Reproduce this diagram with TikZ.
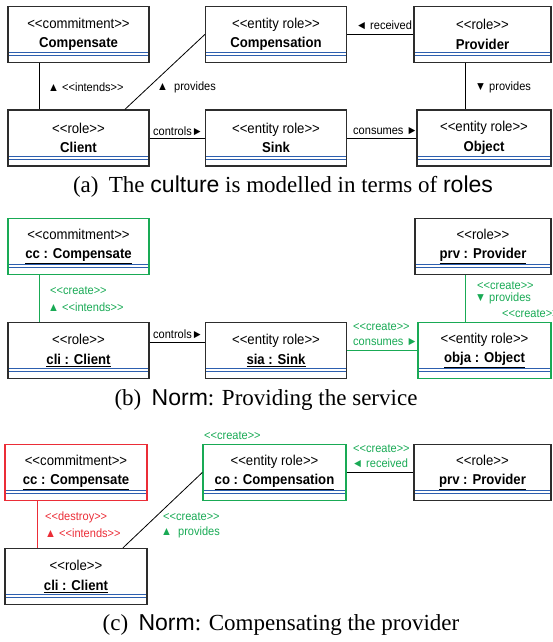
\documentclass[tikz,border=0pt]{standalone}
\usepackage{fontspec}
\setmainfont{Liberation Serif}
\setsansfont{Liberation Sans}[Ligatures=TeXOff]
\usetikzlibrary{positioning}
\definecolor{UMLGreen}{RGB}{25,170,85}
\definecolor{UMLRed}{RGB}{235,45,55}
\definecolor{UMLBlue}{RGB}{45,95,175}
\definecolor{UMLGray}{RGB}{45,45,45}

\begin{document}
\begin{tikzpicture}[x=1pt, y=-1pt,
          cls/.style={rectangle, draw=UMLGray, line width=1.4pt, minimum width=141pt,
                      minimum height=56pt, inner sep=0pt, align=center, fill=white,
                      font=\sffamily\fontsize{14.3}{19.5}\selectfont\addfontfeature{FakeStretch=0.92},
                      path picture={\draw[UMLBlue, line width=1pt]
                        ([yshift=10pt]path picture bounding box.south west) -- ([yshift=10pt]path picture bounding box.south east)
                        ([yshift=7pt]path picture bounding box.south west) -- ([yshift=7pt]path picture bounding box.south east);}},
          lbl/.style={font=\sffamily\fontsize{12}{13}\selectfont\addfontfeature{FakeStretch=0.92},
                      inner sep=0pt, anchor=west},
          lnk/.style={draw=black, line width=0.8pt},
          capt/.style={font=\fontsize{23}{26}\selectfont, inner sep=0pt}
        ]
        \useasboundingbox (0,0) rectangle (552,642);

        % (a) roles
        \node[cls] (compA)  at (78.5, 34.5) {<<commitment>>\\\textbf{Compensate}};
        \node[cls] (compnA) at (276, 34.5)  {<<entity role>>\\\textbf{Compensation}};
        \node[cls, minimum width=137pt] (provA) at (482.5, 34.5) {<<role>>\\\textbf{Provider}};
        \node[cls] (clientA) at (78.5, 138) {<<role>>\\\textbf{Client}};
        \node[cls] (sinkA)   at (276, 138)  {<<entity role>>\\\textbf{Sink}};
        \node[cls, minimum width=134pt] (objA) at (484, 138) {<<entity role>>\\\textbf{Object}};

        \draw[lnk] ([xshift=-39.5pt]compA.south) -- ([xshift=-39.5pt]clientA.north);
        \draw[lnk] ([xshift=46.5pt]clientA.north) -- (compnA.west);
        \draw[lnk] (compnA.east) -- (provA.west);
        \draw[lnk] ([xshift=-17.5pt]provA.south) -- ([xshift=-19pt]objA.north);
        \draw[lnk] (clientA.east) -- (sinkA.west);
        \draw[lnk] (sinkA.east) -- (objA.west);

        \node[lbl] (intA)  at (48, 87)   {▲ <<intends>>};
        \node[lbl] (provdA) at (157, 87) {▲\hspace{0.5em}provides};
        \node[lbl] (recA)  at (356, 25)  {◄ received};
        \node[lbl] (provdA2) at (475, 87) {▼ provides};
        \node[lbl] (ctrlA) at (153, 131) {controls►};
        \node[lbl] (consA) at (353, 131) {consumes ►};

        \node[capt] (captA) at (283, 187)
              {(a)\hspace{0.45em}The \textsf{culture} is modelled in terms of \textsf{roles}};

        % (b) providing the service
        \node[cls, draw=UMLGreen] (ccB) at (78.5, 246.5)
              {<<commitment>>\\\underline{\textbf{cc : Compensate}}};
        \node[cls, minimum width=136pt] (prvB) at (483, 246.5)
              {<<role>>\\\underline{\textbf{prv : Provider}}};
        \node[cls] (cliB) at (78.5, 350.5) {<<role>>\\\underline{\textbf{cli : Client}}};
        \node[cls] (siaB) at (276, 350.5)  {<<entity role>>\\\underline{\textbf{sia : Sink}}};
        \node[cls, draw=UMLGreen, minimum width=133pt] (objaB) at (484.5, 350.5)
              {<<entity role>>\\\underline{\textbf{obja : Object}}};

        \draw[lnk, draw=UMLGreen] ([xshift=-39.5pt]ccB.south) -- ([xshift=-39.5pt]cliB.north);
        \draw[lnk, draw=UMLGreen] ([xshift=-18pt]prvB.south) -- ([xshift=-19.5pt]objaB.north);
        \draw[lnk] ([yshift=8.5pt]cliB.east) -- ([yshift=8.5pt]siaB.west);
        \draw[lnk, draw=UMLGreen] (siaB.east) -- (objaB.west);

        \node[lbl, text=UMLGreen] (crB1) at (50, 291)  {<<create>>};
        \node[lbl, text=UMLGreen] (intB) at (48, 307)  {▲ <<intends>>};
        \node[lbl, text=UMLGreen] (crB2) at (477, 286) {<<create>>};
        \node[lbl, text=UMLGreen] (provdB) at (475, 298) {▼ provides};
        \node[lbl, text=UMLGreen] (crB3) at (502, 314) {<<create>>};
        \node[lbl] (ctrlB) at (153, 334) {controls►};
        \node[lbl, text=UMLGreen] (crB4) at (353, 327) {<<create>>};
        \node[lbl, text=UMLGreen] (consB) at (353, 342) {consumes ►};

        \node[capt] (captB) at (266, 400)
              {(b)\hspace{0.45em}\textsf{Norm}: Providing the service};

        % (c) compensating the provider
        \node[cls, draw=UMLRed, minimum width=142pt] (ccC) at (76, 472.5)
              {<<commitment>>\\\underline{\textbf{cc : Compensate}}};
        \node[cls, draw=UMLGreen, minimum width=143pt] (coC) at (274.5, 472.5)
              {<<entity role>>\\\underline{\textbf{co : Compensation}}};
        \node[cls, minimum width=137pt] (prvC) at (482.5, 472.5)
              {<<role>>\\\underline{\textbf{prv : Provider}}};
        \node[cls, minimum width=142pt] (cliC) at (76, 576.5)
              {<<role>>\\\underline{\textbf{cli : Client}}};

        \draw[lnk, draw=UMLRed] ([xshift=-39pt]ccC.south) -- ([xshift=-39pt]cliC.north);
        \draw[lnk] ([xshift=47pt]cliC.north) -- (coC.west);
        \draw[lnk] (coC.east) -- (prvC.west);

        \node[lbl, text=UMLGreen] (crC1) at (204, 436) {<<create>>};
        \node[lbl, text=UMLGreen] (crC2) at (353, 449) {<<create>>};
        \node[lbl, text=UMLGreen] (recC) at (352, 463) {◄ received};
        \node[lbl, text=UMLRed] (desC) at (45, 517) {<<destroy>>};
        \node[lbl, text=UMLRed] (intC) at (45, 533) {▲ <<intends>>};
        \node[lbl, text=UMLGreen] (crC3) at (163, 517) {<<create>>};
        \node[lbl, text=UMLGreen] (provdC) at (161, 532) {▲\hspace{0.5em}provides};

        \node[capt] (captC) at (281, 625)
              {(c)\hspace{0.45em}\textsf{Norm}: Compensating the provider};
\end{tikzpicture}
\end{document}
